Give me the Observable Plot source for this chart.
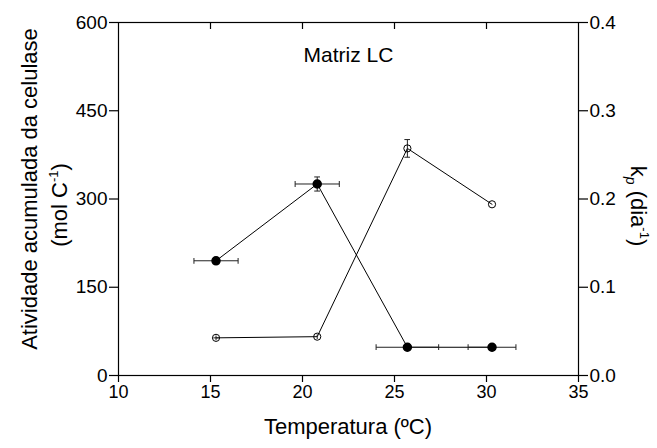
<!DOCTYPE html>
<html>
<head>
<meta charset="utf-8">
<script src="https://cdn.jsdelivr.net/npm/d3@7"></script>
<script src="https://cdn.jsdelivr.net/npm/@observablehq/plot@0.6"></script>
<style>
  html, body { margin: 0; padding: 0; background: #fff; }
  #chart svg { display: block; }
</style>
</head>
<body>
<div id="chart"></div>
<script>
// Data
const temps = [15.3, 20.8, 25.7, 30.3];
// Open circles: cumulative cellulase activity (left axis)
const activity = [64, 66, 386, 291];
const activityErr = [4, 4, 15, 0];
const activityTempErr = [0.15, 0, 0, 0];
// Filled circles: kp (right axis)
const kp = [0.130, 0.217, 0.032, 0.032];
const kpErr = [0, 0.008, 0, 0];
const kpTempErr = [1.2, 1.2, 1.7, 1.3];

const xTicks = [10, 15, 20, 25, 30, 35];
const yTicks = [0, 150, 300, 450, 600];
const rightTicks = [0.0, 0.1, 0.2, 0.3, 0.4];
const kpScale = 600 / 0.4;

const openData = temps.map((t, i) => ({t, v: activity[i], e: activityErr[i], te: activityTempErr[i]}));
const filledData = temps.map((t, i) => ({t, v: kp[i] * kpScale, e: kpErr[i] * kpScale, te: kpTempErr[i]}));

const W = 657, H = 448;
const font = "'Liberation Sans', Arial, sans-serif";

const plot = Plot.plot({
  width: W,
  height: H,
  marginLeft: 118,
  marginRight: 79,
  marginTop: 22,
  marginBottom: 73,
  style: {fontFamily: font, fontSize: "19px", color: "#000", background: "#fff", overflow: "visible"},
  x: {domain: [10, 35]},
  y: {domain: [0, 600]},
  marks: [
    Plot.frame({stroke: "#000", strokeWidth: 1.2}),
    Plot.axisY({ticks: yTicks, tickSize: 9, tickPadding: 2, label: null, strokeWidth: 1.2}),
    Plot.axisY({anchor: "right", ticks: yTicks, tickSize: 9, tickPadding: 2, label: null, strokeWidth: 1.2,
      tickFormat: d => rightTicks[yTicks.indexOf(d)].toFixed(1)}),
    Plot.axisX({ticks: xTicks, tickSize: 7, tickPadding: 3, fontSize: 18, label: null, strokeWidth: 1.2}),
    Plot.axisX({anchor: "top", ticks: xTicks.slice(1, -1), tickSize: -6, tickFormat: () => "", label: null, strokeWidth: 1.2}),
    // connecting lines
    Plot.line(filledData, {x: "t", y: "v", stroke: "#000", strokeWidth: 1}),
    Plot.line(openData, {x: "t", y: "v", stroke: "#000", strokeWidth: 1}),
    // horizontal error bars
    Plot.link(filledData.filter(d => d.te > 0), {x1: d => d.t - d.te, x2: d => d.t + d.te, y1: "v", y2: "v",
      stroke: "#222", strokeWidth: 1, markerStart: "tick", markerEnd: "tick"}),
    Plot.link(openData.filter(d => d.te > 0), {x1: d => d.t - d.te, x2: d => d.t + d.te, y1: "v", y2: "v",
      stroke: "#222", strokeWidth: 1}),
    // vertical error bars
    Plot.link(filledData.filter(d => d.e > 0), {x1: "t", x2: "t", y1: d => d.v - d.e, y2: d => d.v + d.e,
      stroke: "#222", strokeWidth: 1, markerStart: "tick", markerEnd: "tick"}),
    Plot.link(openData.filter(d => d.e > 0 && d.e < 10), {x1: "t", x2: "t", y1: d => d.v - d.e, y2: d => d.v + d.e,
      stroke: "#222", strokeWidth: 1}),
    Plot.link(openData.filter(d => d.e >= 10), {x1: "t", x2: "t", y1: d => d.v - d.e, y2: d => d.v + d.e,
      stroke: "#222", strokeWidth: 1, markerStart: "tick", markerEnd: "tick"}),
    // points
    Plot.dot(openData, {x: "t", y: "v", r: 3.6, fill: "none", stroke: "#000", strokeWidth: 1}),
    Plot.dot(filledData, {x: "t", y: "v", r: 4, fill: "#000", stroke: "#000"}),
    Plot.text(["Matriz LC"], {frameAnchor: "top", dy: 25, text: d => d, fontSize: 21, fill: "#000", lineAnchor: "top"})
  ]
});

document.getElementById("chart").appendChild(plot);

// Axis titles with super/subscripts
const svg = d3.select(plot);
const lab = svg.append("g").attr("font-family", font).attr("fill", "#000");

lab.append("text")
  .attr("x", 348).attr("y", 434)
  .attr("text-anchor", "middle").attr("font-size", 22)
  .text("Temperatura (ºC)");

lab.append("text")
  .attr("transform", "translate(37,189) rotate(-90)")
  .attr("text-anchor", "middle").attr("font-size", 22)
  .text("Atividade acumulada da celulase");

const t2 = lab.append("text")
  .attr("transform", "translate(67,205) rotate(-90)")
  .attr("text-anchor", "middle").attr("font-size", 22);
t2.append("tspan").text("(mol C");
t2.append("tspan").attr("font-size", 13).attr("dy", -9).text("-1");
t2.append("tspan").attr("dy", 9).text(")");

const t3 = lab.append("text")
  .attr("transform", "translate(631,206) rotate(90)")
  .attr("text-anchor", "middle").attr("font-size", 22);
t3.append("tspan").text("k");
t3.append("tspan").attr("font-size", 14).attr("font-style", "italic").attr("dy", 5).text("p");
t3.append("tspan").attr("dy", -5).text(" (dia");
t3.append("tspan").attr("font-size", 13).attr("dy", -9).text("-1");
t3.append("tspan").attr("dy", 9).text(")");
</script>
</body>
</html>
